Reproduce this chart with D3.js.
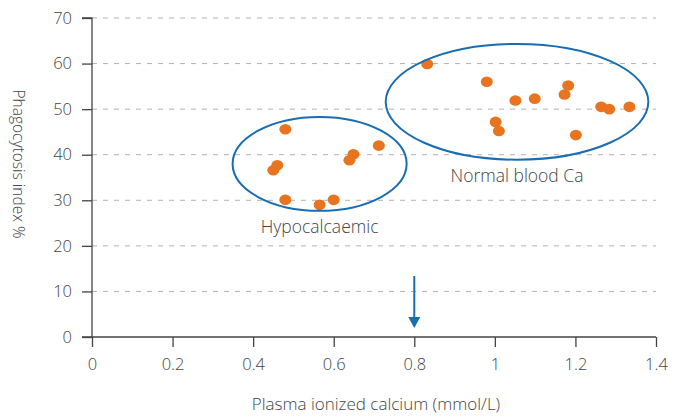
<!DOCTYPE html>
<html>
<head>
<meta charset="utf-8">
<script src="https://cdn.jsdelivr.net/npm/d3@7"></script>
<style>
  html, body { margin: 0; padding: 0; background: #fff; }
  svg { display: block; font-family: "Open Sans", "Noto Sans", sans-serif; }
</style>
</head>
<body>
<svg id="chart" width="683" height="417"></svg>
<script>
// Hypocalcaemic cows: plasma ionized calcium (mmol/L) vs phagocytosis index (%)
const hypoCa = [0.48, 0.46, 0.45, 0.48, 0.565, 0.60, 0.649, 0.639, 0.712];
const hypoPhago = [45.6, 37.7, 36.6, 30.1, 29.0, 30.1, 40.1, 38.8, 42.0];

// Cows with normal blood calcium
const normalCa = [0.832, 0.98, 1.051, 1.099, 1.182, 1.173, 1.264, 1.284, 1.334, 1.002, 1.01, 1.201];
const normalPhago = [59.9, 56.0, 51.9, 52.3, 55.2, 53.2, 50.5, 50.0, 50.5, 47.2, 45.2, 44.3];

const xTicks = [0, 0.2, 0.4, 0.6, 0.8, 1, 1.2, 1.4];
const yTicks = [0, 10, 20, 30, 40, 50, 60, 70];

// Group outlines: centre (x, y) and radii in data units
const groupNames = ["Hypocalcaemic", "Normal blood Ca"];
const groupCx = [0.565, 1.055];
const groupCy = [38.0, 51.6];
const groupRx = [0.216, 0.326];
const groupRy = [10.3, 12.7];

// Threshold marker on the calcium axis
const thresholdCa = 0.8;
const thresholdFrom = 13.4;
const thresholdTo = 2.0;

const svg = d3.select("#chart");
const margin = { left: 92, right: 27, top: 18, bottom: 80 };
const W = 683, H = 417;

const x = d3.scaleLinear().domain([0, 1.4]).range([margin.left, W - margin.right]);
const y = d3.scaleLinear().domain([0, 70]).range([H - margin.bottom, margin.top]);

const textColor = "#444";
const axisColor = "#444";
const blue = "#1b6db2";
const orange = "#e8741f";

// Dashed horizontal gridlines
svg.append("g")
  .selectAll("line")
  .data(yTicks.filter(d => d > 0))
  .join("line")
  .attr("x1", x(0)).attr("x2", x(1.4))
  .attr("y1", d => y(d)).attr("y2", d => y(d))
  .attr("stroke", "#b3b3b3")
  .attr("stroke-width", 1)
  .attr("stroke-dasharray", "5,6");

// Axes
const yAxis = d3.axisLeft(y).tickValues(yTicks).tickSize(10).tickPadding(10).tickFormat(d3.format("d"));
const gy = svg.append("g").attr("transform", `translate(${x(0)},0)`).call(yAxis);

const xAxis = d3.axisBottom(x).tickValues(xTicks).tickSize(10).tickPadding(11).tickFormat(d => String(d));
const gx = svg.append("g").attr("transform", `translate(0,${y(0)})`).call(xAxis);

[gx, gy].forEach(g => {
  g.select(".domain").attr("stroke", axisColor).attr("stroke-width", 1.3);
  g.selectAll(".tick line").attr("stroke", axisColor).attr("stroke-width", 1.3);
  g.selectAll(".tick text")
    .attr("fill", textColor)
    .style("font-size", "16.5px")
    .style("font-weight", 300)
    .style("font-family", "'Open Sans', sans-serif");
});
gy.select(".domain").attr("d", `M-10,${y(70)}H0V${y(0)}`);
gx.select(".domain").attr("d", `M${x(0) - 10},0H${x(1.4)}`);

// Axis titles
svg.append("text")
  .attr("x", (x(0) + x(1.4)) / 2 + 2)
  .attr("y", 410)
  .attr("text-anchor", "middle")
  .attr("fill", textColor)
  .style("font-size", "17px")
  .style("font-weight", 300)
  .text("Plasma ionized calcium (mmol/L)");

svg.append("text")
  .attr("transform", `translate(13, 164) rotate(90)`)
  .attr("text-anchor", "middle")
  .attr("fill", textColor)
  .style("font-size", "15.5px")
  .style("font-weight", 300)
  .text("Phagocytosis index %");

// Data points
const points = hypoCa.map((c, i) => ({ c, p: hypoPhago[i] }))
  .concat(normalCa.map((c, i) => ({ c, p: normalPhago[i] })));

svg.append("g")
  .selectAll("ellipse")
  .data(points)
  .join("ellipse")
  .attr("cx", d => x(d.c))
  .attr("cy", d => y(d.p))
  .attr("rx", 6)
  .attr("ry", 5.3)
  .attr("fill", orange);

// Group outlines
const groups = groupNames.map((name, i) => ({
  name, cx: groupCx[i], cy: groupCy[i], rx: groupRx[i], ry: groupRy[i]
}));

svg.append("g")
  .selectAll("ellipse")
  .data(groups)
  .join("ellipse")
  .attr("cx", d => x(d.cx))
  .attr("cy", d => y(d.cy))
  .attr("rx", d => x(d.rx) - x(0))
  .attr("ry", d => y(0) - y(d.ry))
  .attr("fill", "none")
  .attr("stroke", blue)
  .attr("stroke-width", 2);

svg.append("g")
  .selectAll("text")
  .data(groups)
  .join("text")
  .attr("x", d => x(d.cx))
  .attr("y", d => y(d.cy - d.ry) + 22)
  .attr("text-anchor", "middle")
  .attr("fill", textColor)
  .style("font-size", "17.5px")
  .style("font-weight", 300)
  .text(d => d.name);

// Threshold arrow
svg.append("line")
  .attr("x1", x(thresholdCa)).attr("x2", x(thresholdCa))
  .attr("y1", y(thresholdFrom)).attr("y2", y(thresholdTo) - 6)
  .attr("stroke", blue)
  .attr("stroke-width", 2);

svg.append("path")
  .attr("d", `M${x(thresholdCa) - 6},${y(thresholdTo) - 11}L${x(thresholdCa) + 6},${y(thresholdTo) - 11}L${x(thresholdCa)},${y(thresholdTo)}Z`)
  .attr("fill", blue);
</script>
</body>
</html>
